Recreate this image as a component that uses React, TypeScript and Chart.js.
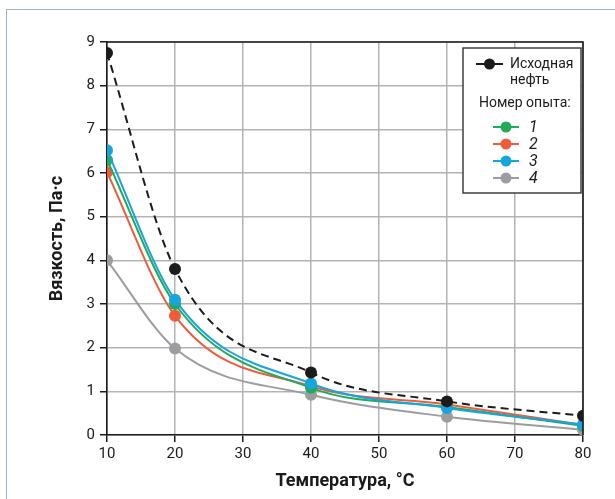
import React, { useEffect, useRef } from "react";
import { Chart, registerables } from "chart.js";

Chart.register(...registerables);

const temperatures = [10, 20, 40, 60, 80];
const initialOil = [8.75, 3.8, 1.43, 0.77, 0.44];
const run1 = [6.3, 3.0, 1.08, 0.64, 0.21];
const run2 = [6.02, 2.73, 1.12, 0.7, 0.23];
const run3 = [6.52, 3.1, 1.18, 0.62, 0.24];
const run4 = [4.0, 1.98, 0.92, 0.42, 0.12];
const xTicks = [10, 20, 30, 40, 50, 60, 70, 80];
const yTicks = [0, 1, 2, 3, 4, 5, 6, 7, 8, 9];

const FONT = '"Roboto", "Liberation Sans", sans-serif';
const BLACK = "#1b1b1b";
const GREEN = "#1fab5a";
const RED = "#f05b3c";
const BLUE = "#18a4dd";
const GRAY = "#9c9da0";

const overlay = {
  id: "overlay",
  afterDraw(chart: any) {
    const { ctx, chartArea } = chart;
    const { left, right, top, bottom } = chartArea;
    ctx.save();
    ctx.strokeStyle = BLACK;
    ctx.lineWidth = 1.6;
    ctx.beginPath();
    ctx.moveTo(left, top);
    ctx.lineTo(right, top);
    ctx.lineTo(right, bottom);
    ctx.stroke();

    ctx.fillStyle = BLACK;
    ctx.font = `bold 18px ${FONT}`;
    ctx.textAlign = "center";
    ctx.textBaseline = "middle";
    ctx.fillText("Температура, °С", (left + right) / 2, 481);
    ctx.save();
    ctx.translate(57, (top + bottom) / 2);
    ctx.rotate(-Math.PI / 2);
    ctx.fillText("Вязкость, Па·с", 0, 0);
    ctx.restore();

    const bx = 463, by = 48, bw = 118, bh = 145;
    ctx.fillStyle = "#ffffff";
    ctx.fillRect(bx, by, bw, bh);
    ctx.strokeStyle = "#333333";
    ctx.lineWidth = 1.4;
    ctx.strokeRect(bx, by, bw, bh);

    const sample = (x1: number, x2: number, y: number, color: string) => {
      ctx.strokeStyle = color;
      ctx.lineWidth = 2;
      ctx.setLineDash([]);
      ctx.beginPath();
      ctx.moveTo(x1, y);
      ctx.lineTo(x2, y);
      ctx.stroke();
      ctx.fillStyle = color;
      ctx.beginPath();
      ctx.arc((x1 + x2) / 2, y, 5.5, 0, Math.PI * 2);
      ctx.fill();
    };
    sample(476, 503, 64, BLACK);
    ctx.fillStyle = BLACK;
    ctx.textAlign = "left";
    ctx.textBaseline = "middle";
    ctx.font = `14px ${FONT}`;
    ctx.fillText("Исходная", 510, 64);
    ctx.fillText("нефть", 510, 80);
    ctx.fillText("Номер опыта:", 479, 103);

    const items: [string, string, number][] = [
      ["1", GREEN, 127],
      ["2", RED, 144],
      ["3", BLUE, 161],
      ["4", GRAY, 178],
    ];
    ctx.font = `italic 16px ${FONT}`;
    for (const [label, color, y] of items) {
      sample(493, 519, y, color);
      ctx.fillStyle = BLACK;
      ctx.fillText(label, 529, y + 1);
    }
    ctx.restore();
  },
};

export default function App() {
  const ref = useRef<HTMLCanvasElement | null>(null);

  useEffect(() => {
    if (!ref.current) return;
    const ds = (label: string, data: number[], color: string, dashed = false) => ({
      label,
      data: temperatures.map((t, i) => ({ x: t, y: data[i] })),
      borderColor: color,
      backgroundColor: color,
      pointBackgroundColor: color,
      pointBorderColor: color,
      borderWidth: 2,
      borderDash: dashed ? [8, 5] : [],
      pointRadius: 6,
      pointBorderWidth: 0,
      cubicInterpolationMode: "monotone" as const,
      fill: false,
    });
    const chart = new Chart(ref.current, {
      type: "line",
      data: {
        datasets: [
          ds("Исходная нефть", initialOil, BLACK, true),
          ds("3", run3, BLUE),
          ds("1", run1, GREEN),
          ds("2", run2, RED),
          ds("4", run4, GRAY),
        ],
      },
      options: {
        animation: false,
        responsive: false,
        devicePixelRatio: 1,
        layout: { padding: { left: 0, right: 32, top: 42, bottom: 0 } },
        plugins: { legend: { display: false }, tooltip: { enabled: false } },
        scales: {
          x: {
            type: "linear",
            min: 10,
            max: 80,
            afterBuildTicks: (scale: any) => {
              scale.ticks = xTicks.map((v) => ({ value: v }));
            },
            afterFit: (scale: any) => {
              scale.height = 64;
            },
            grid: { color: "#b3b3b3", lineWidth: 1.5, tickLength: 7, tickColor: BLACK },
            border: { color: BLACK, width: 1.6 },
            ticks: {
              color: BLACK,
              font: { family: FONT, size: 15 },
              padding: 3,
              maxRotation: 0,
            },
          },
          y: {
            type: "linear",
            min: 0,
            max: 9,
            afterBuildTicks: (scale: any) => {
              scale.ticks = yTicks.map((v) => ({ value: v }));
            },
            afterFit: (scale: any) => {
              scale.width = 107;
            },
            grid: { color: "#b3b3b3", lineWidth: 1.5, tickLength: 7, tickColor: BLACK },
            border: { color: BLACK, width: 1.6 },
            ticks: {
              color: BLACK,
              font: { family: FONT, size: 15 },
              padding: 5,
            },
          },
        },
      },
      plugins: [overlay],
    } as any);
    return () => chart.destroy();
  }, []);

  return (
    <div style={{ position: "absolute", left: 0, top: 0, width: 615, height: 499, background: "#fff", overflow: "hidden" }}>
      <div
        style={{
          position: "absolute",
          left: 6,
          top: 9,
          right: 0,
          bottom: 0,
          borderTop: "1px solid #9db3c4",
          borderLeft: "1px solid #9db3c4",
        }}
      />
      <canvas ref={ref} width={615} height={499} style={{ position: "absolute", left: 0, top: 0 }} />
    </div>
  );
}
